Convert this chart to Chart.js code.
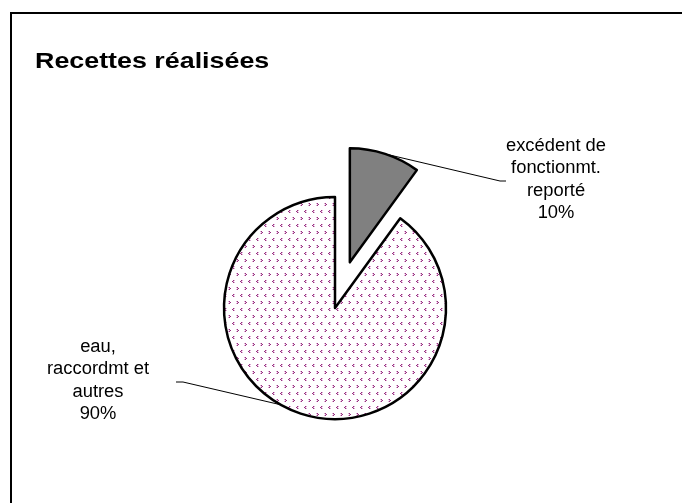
<!DOCTYPE html>
<html>
<head>
<meta charset="utf-8">
<script src="https://cdn.jsdelivr.net/npm/chart.js@4"></script>
<style>
  html, body { margin: 0; padding: 0; background: #fff; }
</style>
</head>
<body>
<canvas id="pieChart" width="682" height="503"></canvas>
<script>
// ---- data ----
const chartTitle = "Recettes réalisées";
const categories = ["excédent de fonctionmt. reporté", "eau, raccordmt et autres"];
const labelLines = [["excédent de", "fonctionmt.", "reporté"], ["eau,", "raccordmt et", "autres"]];
const shares = [10, 90];

const FONT = '"Liberation Sans", Arial, sans-serif';

// purple chevrons on white, like the old excel fill
function makeDotPattern() {
  const tile = document.createElement("canvas");
  tile.width = 8;
  tile.height = 14;
  const c = tile.getContext("2d");
  c.fillStyle = "#fff";
  c.fillRect(0, 0, 8, 14);
  const px = (x, y, col) => { c.fillStyle = col; c.fillRect(x, y, 1, 1); };
  const dark = "#96307f", light = "#dcaad2";
  // "<"
  px(1, 0, dark); px(0, 1, dark); px(1, 2, dark);
  px(2, 0, light); px(1, 1, light); px(2, 2, light);
  // ">"
  px(5, 7, dark); px(6, 8, dark); px(5, 9, dark);
  px(4, 7, light); px(5, 8, light); px(4, 9, light);
  return c.createPattern(tile, "repeat");
}

// pull the small slice out of the pie
const explodePlugin = {
  id: "explode",
  afterUpdate(chart) {
    const arc = chart.getDatasetMeta(0).data[0];
    const mid = (arc.startAngle + arc.endAngle) / 2;
    arc.x += Math.cos(mid) * 48;
    arc.y += Math.sin(mid) * 48;
    arc.outerRadius += 3;
  }
};

function arcPoint(arc, angle) {
  return { x: arc.x + Math.cos(angle) * arc.outerRadius, y: arc.y + Math.sin(angle) * arc.outerRadius };
}

// text a bit wider than plain Arial, as in the picture
function wideText(ctx, text, x, y, sx) {
  ctx.save();
  ctx.translate(x, y);
  ctx.scale(sx, 1);
  ctx.fillText(text, 0, 0);
  ctx.restore();
}

const decorPlugin = {
  id: "decor",
  beforeDraw(chart) {
    const ctx = chart.ctx;
    ctx.save();
    ctx.fillStyle = "#fff";
    ctx.fillRect(0, 0, chart.width, chart.height);
    // frame (only top + left are inside the picture)
    ctx.strokeStyle = "#000";
    ctx.lineWidth = 2;
    ctx.beginPath();
    ctx.moveTo(11, chart.height + 5);
    ctx.lineTo(11, 13);
    ctx.lineTo(chart.width + 5, 13);
    ctx.stroke();
    ctx.restore();
  },
  afterDraw(chart) {
    const ctx = chart.ctx;
    const arcs = chart.getDatasetMeta(0).data;
    ctx.save();

    // title
    ctx.fillStyle = "#000";
    ctx.font = "bold 22px " + FONT;
    ctx.textAlign = "left";
    ctx.textBaseline = "alphabetic";
    wideText(ctx, chartTitle, 35, 68, 1.22);

    // leader lines
    ctx.strokeStyle = "#000";
    ctx.lineWidth = 1;
    const a0 = arcs[0];
    const p0 = arcPoint(a0, (a0.startAngle + a0.endAngle) / 2);
    ctx.beginPath();
    ctx.moveTo(p0.x, p0.y);
    ctx.lineTo(500, 181);
    ctx.lineTo(506, 181);
    ctx.stroke();

    const a1 = arcs[1];
    const p1 = arcPoint(a1, a1.startAngle + (a1.endAngle - a1.startAngle) * 0.535);
    ctx.beginPath();
    ctx.moveTo(p1.x, p1.y);
    ctx.lineTo(183, 382);
    ctx.lineTo(176, 382);
    ctx.stroke();

    // slice labels
    ctx.font = "18px " + FONT;
    ctx.textAlign = "center";
    ctx.textBaseline = "middle";
    const total = shares.reduce((s, v) => s + v, 0);
    const spots = [{ x: 556, y: 146 }, { x: 98, y: 347 }];
    labelLines.forEach((lines, i) => {
      const all = lines.concat([Math.round(shares[i] / total * 100) + "%"]);
      all.forEach((t, k) => wideText(ctx, t, spots[i].x, spots[i].y + k * 22.5, 1.02));
    });
    ctx.restore();
  }
};

new Chart(document.getElementById("pieChart"), {
  type: "pie",
  data: {
    labels: categories,
    datasets: [{
      data: shares,
      backgroundColor: ["#808080", makeDotPattern()],
      borderColor: "#000",
      borderWidth: 2.5,
      borderJoinStyle: "round"
    }]
  },
  options: {
    responsive: false,
    animation: false,
    events: [],
    radius: 111,
    layout: { padding: { left: 100, right: 112, top: 150, bottom: 37 } },
    plugins: {
      legend: { display: false },
      tooltip: { enabled: false },
      title: { display: false }
    }
  },
  plugins: [explodePlugin, decorPlugin]
});
</script>
</body>
</html>
